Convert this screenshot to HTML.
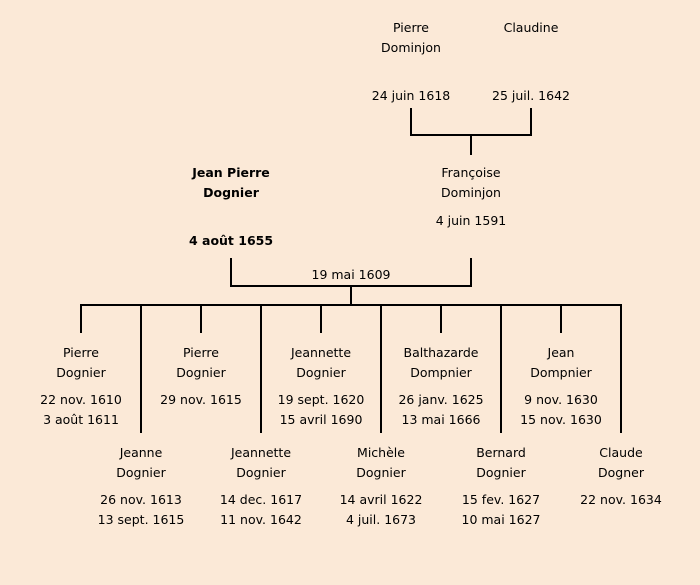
<!DOCTYPE html>
<html><head><meta charset="utf-8"><style>
html,body{margin:0;padding:0;background:#fbe9d7;}
svg{display:block;}
text{font-family:"DejaVu Sans","Liberation Sans",sans-serif;font-size:12.5px;fill:#000;text-anchor:middle;}
.b{font-weight:bold;}
</style></head><body>
<svg width="700" height="585" viewBox="0 0 700 585" xmlns="http://www.w3.org/2000/svg">
<rect width="700" height="585" fill="#fbe9d7"/>
<g stroke="#000" stroke-width="2" fill="none">
<path d="M411 108V135H531V108M471 135V155"/>
<path d="M231 258V286H471V258M351 286V305M80 305H622"/>
<path d="M81 305V333M201 305V333M321 305V333M441 305V333M561 305V333"/>
<path d="M141 305V433M261 305V433M381 305V433M501 305V433M621 305V433"/>
</g>
<text x="411" y="32">Pierre</text><text x="411" y="52">Dominjon</text>
<text x="531" y="32">Claudine</text>
<text x="411" y="100">24 juin 1618</text><text x="531" y="100">25 juil. 1642</text>
<text x="231" y="177" class="b">Jean Pierre</text><text x="231" y="197" class="b">Dognier</text>
<text x="231" y="245" class="b">4 août 1655</text>
<text x="471" y="177">Françoise</text><text x="471" y="197">Dominjon</text>
<text x="471" y="225">4 juin 1591</text>
<text x="351" y="279">19 mai 1609</text>
<text x="81" y="357">Pierre</text><text x="81" y="377">Dognier</text><text x="81" y="404">22 nov. 1610</text><text x="81" y="424">3 août 1611</text>
<text x="201" y="357">Pierre</text><text x="201" y="377">Dognier</text><text x="201" y="404">29 nov. 1615</text>
<text x="321" y="357">Jeannette</text><text x="321" y="377">Dognier</text><text x="321" y="404">19 sept. 1620</text><text x="321" y="424">15 avril 1690</text>
<text x="441" y="357">Balthazarde</text><text x="441" y="377">Dompnier</text><text x="441" y="404">26 janv. 1625</text><text x="441" y="424">13 mai 1666</text>
<text x="561" y="357">Jean</text><text x="561" y="377">Dompnier</text><text x="561" y="404">9 nov. 1630</text><text x="561" y="424">15 nov. 1630</text>
<text x="141" y="457">Jeanne</text><text x="141" y="477">Dognier</text><text x="141" y="504">26 nov. 1613</text><text x="141" y="524">13 sept. 1615</text>
<text x="261" y="457">Jeannette</text><text x="261" y="477">Dognier</text><text x="261" y="504">14 dec. 1617</text><text x="261" y="524">11 nov. 1642</text>
<text x="381" y="457">Michèle</text><text x="381" y="477">Dognier</text><text x="381" y="504">14 avril 1622</text><text x="381" y="524">4 juil. 1673</text>
<text x="501" y="457">Bernard</text><text x="501" y="477">Dognier</text><text x="501" y="504">15 fev. 1627</text><text x="501" y="524">10 mai 1627</text>
<text x="621" y="457">Claude</text><text x="621" y="477">Dogner</text><text x="621" y="504">22 nov. 1634</text>
</svg>
</body></html>
